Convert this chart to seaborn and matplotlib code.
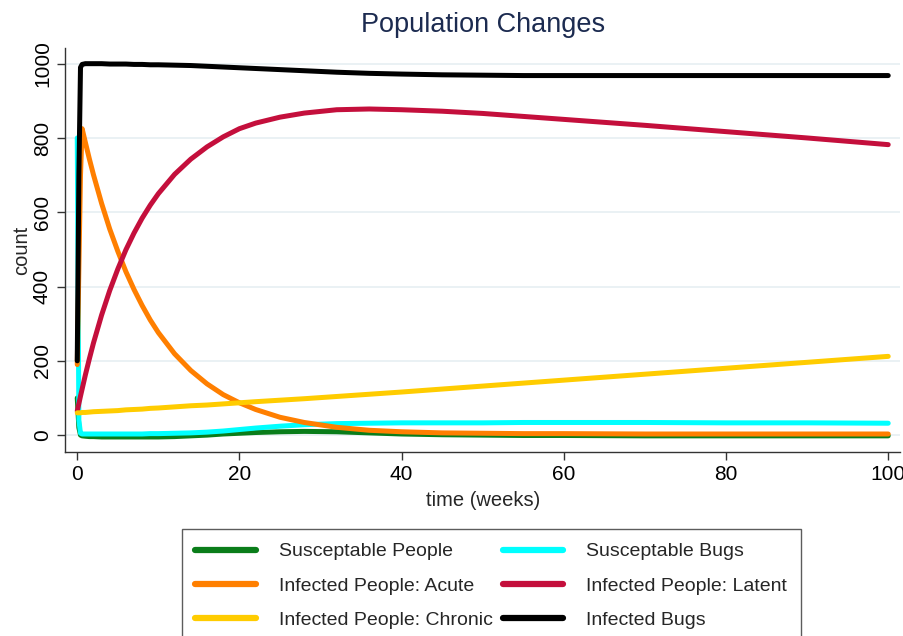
import numpy as np
import pandas as pd
import matplotlib
matplotlib.use('Agg')
import matplotlib.pyplot as plt
import seaborn as sns

# time grid (weeks) and series
weeks = [0, 0.2, 0.4, 0.6, 1, 1.5, 2, 3, 4, 5, 6, 7, 8, 9, 10, 12, 14, 16, 18, 20,
         22, 25, 28, 32, 36, 40, 45, 50, 55, 60, 70, 80, 90, 100]

sus_people = [100, 20, 0, -2, -3, -4, -4, -5, -5, -5, -5, -5, -5, -5, -5, -4, -2, 0, 3, 5,
              7, 9, 10, 9, 6, 3, 1, 0, -1, -1, -2, -2, -2, -2]
sus_bugs = [800, 40, 5, 3, 3, 3, 3, 3, 3, 3, 3, 3, 3, 4, 4, 5, 6, 8, 11, 15,
            19, 24, 28, 31, 32, 33, 33, 33, 34, 34, 34, 33, 33, 32]
inf_acute = [190, 450, 700, 825, 788, 743, 701, 624, 555, 495, 440, 392, 349, 310, 276, 219, 174, 138, 109, 87,
             69, 48, 34, 21, 13, 9, 6, 5, 4, 4, 3, 3, 3, 3]
inf_latent = [65, 85, 105, 124, 162, 206, 248, 323, 389, 447, 499, 544, 584, 619, 650, 702, 743, 776, 803, 825,
              840, 856, 867, 876, 878, 876, 872, 866, 858, 850, 834, 817, 800, 782]
inf_chronic = [60, 60, 60, 61, 61, 62, 63, 64, 65, 66, 68, 69, 70, 72, 73, 76, 79, 81, 84, 87,
               90, 94, 98, 104, 110, 116, 124, 132, 140, 148, 164, 180, 196, 212]
inf_bugs = [200, 700, 990, 998, 1000, 1000, 1000, 1000, 999, 999, 999, 998, 998, 997, 997, 996, 995, 993, 991, 989,
            987, 984, 981, 977, 974, 972, 970, 969, 968, 968, 968, 968, 968, 968]

labels = ['Susceptable People', 'Susceptable Bugs', 'Infected People: Acute',
          'Infected People: Latent', 'Infected People: Chronic', 'Infected Bugs']
colors = ['#0a7d1a', '#00ffff', '#ff7f00', '#c40f3c', '#ffcc00', '#000000']
series = [sus_people, sus_bugs, inf_acute, inf_latent, inf_chronic, inf_bugs]

df = pd.concat([pd.DataFrame({'time': weeks, 'count': s, 'series': lab})
                for s, lab in zip(series, labels)])

sns.set_style('white')
plt.rcParams['font.family'] = ['Liberation Sans', 'DejaVu Sans']

fig = plt.figure(figsize=(9.04, 6.36), dpi=100)
ax = fig.add_axes([0.072, 0.289, 0.924, 0.636])

sns.lineplot(data=df, x='time', y='count', hue='series', hue_order=labels,
             palette=dict(zip(labels, colors)), linewidth=3.6, ax=ax, legend=False)

ax.set_xlim(-1.5, 101.5)
ax.set_ylim(-46, 1043)
ax.set_xticks([0, 20, 40, 60, 80, 100])
ax.set_yticks([0, 200, 400, 600, 800, 1000])
ax.yaxis.grid(True, color='#e6eff2', linewidth=1.2)
ax.set_axisbelow(True)
for sp in ['top', 'right']:
    ax.spines[sp].set_visible(False)
for sp in ['left', 'bottom']:
    ax.spines[sp].set_color('#333333')
    ax.spines[sp].set_linewidth(1.0)
ax.tick_params(axis='both', direction='out', length=6, width=1, color='#333333',
               labelsize=15, labelcolor='black', left=True, bottom=True)
plt.setp(ax.get_yticklabels(), rotation=90, va='center')
ax.set_xlabel('time (weeks)', fontsize=14.5, labelpad=5)
ax.set_ylabel('count', fontsize=14.5, labelpad=1)
ax.set_title('Population Changes', fontsize=19.5, color='#1c2b50', pad=11)

handles = [plt.Line2D([], [], color=c, linewidth=4.5) for c in colors]
order = [0, 2, 4, 1, 3, 5]
leg = fig.legend([handles[i] for i in order], [labels[i] for i in order],
                 loc='upper left', bbox_to_anchor=(0.201, 0.168), ncol=2,
                 fontsize=14, frameon=True, fancybox=False, handlelength=3.1,
                 handletextpad=1.2, columnspacing=0.5, labelspacing=0.85,
                 borderpad=0.7, borderaxespad=0)
leg.get_frame().set_edgecolor('#333333')
leg.get_frame().set_linewidth(1.0)

plt.savefig('out.png', dpi=100)
